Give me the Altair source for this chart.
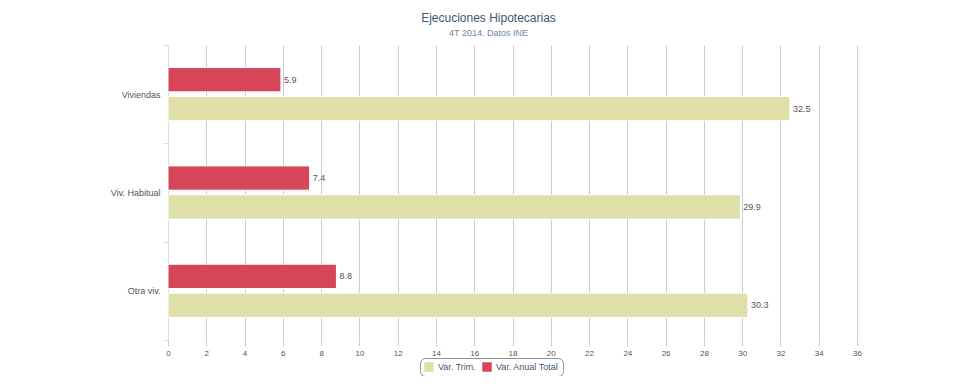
import altair as alt
import pandas as pd

categories = ["Viviendas", "Viv. Habitual", "Otra viv."]
series_names = ["Var. Trim.", "Var. Anual Total"]
var_trim = [32.5, 29.9, 30.3]
var_anual = [5.9, 7.4, 8.8]
x_ticks = list(range(0, 37, 2))

rows = []
for c, t, a in zip(categories, var_trim, var_anual):
    rows.append({"cat": c, "serie": series_names[0], "val": t})
    rows.append({"cat": c, "serie": series_names[1], "val": a})
df = pd.DataFrame(rows)

FONT = "Liberation Sans"
colors = ["#DFDFA9", "#D64558"]

x_axis = alt.Axis(values=x_ticks, tickCount=40, grid=True, gridColor="#CCCCCC",
                  domain=False, tickColor="#CCCCCC", tickSize=6,
                  labelOverlap=False, labelFlush=False,
                  labelFontSize=8, labelColor="#555555", labelFont=FONT,
                  labelPadding=3)
x_scale = alt.Scale(domain=[0, 36], nice=False)

base = alt.Chart(df).encode(
    y=alt.Y("cat:N", sort=categories, title=None,
            scale=alt.Scale(paddingInner=0, paddingOuter=0),
            axis=alt.Axis(labelFontSize=9, labelColor="#555555", labelFont=FONT,
                          domainColor="#D8DEE6", tickColor="#D8DEE6", tickSize=5,
                          tickBand="extent", labelPadding=3, grid=False)),
    yOffset=alt.YOffset("serie:N", sort=["Var. Anual Total", "Var. Trim."],
                        scale=alt.Scale(paddingInner=0.16, paddingOuter=0.78)),
    x=alt.X("val:Q", title=None, scale=x_scale, axis=x_axis),
)

bars = base.mark_bar(stroke="white", strokeWidth=1).encode(
    color=alt.Color("serie:N", sort=series_names,
                    scale=alt.Scale(domain=series_names, range=colors),
                    legend=alt.Legend(title=None, orient="none", direction="horizontal",
                                      legendX=252, legendY=313,
                                      symbolType="square", symbolSize=90,
                                      symbolStrokeWidth=0,
                                      labelFontSize=9, labelColor="#3E576F",
                                      labelFont=FONT,
                                      strokeColor="#909090", cornerRadius=5,
                                      padding=4, columnPadding=6)),
)

labels = base.mark_text(align="left", baseline="middle", dx=3, fontSize=9,
                        color="#555555", font=FONT).encode(
    text=alt.Text("val:Q", format=".1f"),
)

chart = (bars + labels).properties(
    width=689,
    height=295,
    autosize=alt.AutoSizeParams(type="none"),
    padding={"left": 160, "top": 37, "right": 110, "bottom": 36},
    title=alt.TitleParams(
        text="Ejecuciones Hipotecarias",
        subtitle="4T 2014. Datos INE",
        anchor="middle", frame="group", dx=-24,
        fontSize=12, fontWeight="normal", color="#3E576F", font=FONT,
        subtitleFontSize=9, subtitleColor="#6D869F", subtitleFont=FONT,
        subtitlePadding=4, offset=2,
    ),
).configure_view(stroke=None)

chart.save("out.html", embed_options={"renderer": "svg", "actions": False})
